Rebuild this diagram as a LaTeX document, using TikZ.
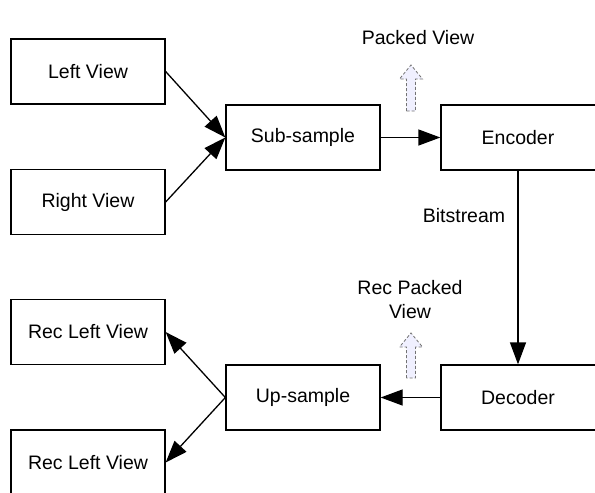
\documentclass[tikz,border=0pt]{standalone}
\usepackage{fontspec}
\setmainfont{Liberation Sans}
\usetikzlibrary{arrows.meta}
\begin{document}
\begin{tikzpicture}[x=1pt,y=-1pt,
  blk/.style={draw=black,line width=1.3pt,minimum width=154pt,minimum height=65pt,inner sep=0pt,font=\fontsize{19.5}{22}\selectfont},
  lbl/.style={font=\fontsize{19.5}{24}\selectfont,align=center},
  conn/.style={line width=1.3pt,-{Triangle[length=22pt,width=16pt]}},
  hollow/.style={draw=black!55,dashed,dash pattern=on 3pt off 2pt,line width=0.8pt,fill=blue!6!white}]
\useasboundingbox (0,0) rectangle (595,493);
\clip (0,0) rectangle (595,493);
\node[blk] (lv) at (88,71.5) {Left View};
\node[blk] (rv) at (88,202) {Right View};
\node[blk] (ss) at (303,137.5) {Sub-sample};
\node[blk,minimum width=156pt] (enc) at (519,137.5) {};
\node[font=\fontsize{19.5}{22}\selectfont] (enct) at (518,137.5) {Encoder};
\node[blk,minimum width=156pt] (dec) at (519,397.5) {};
\node[font=\fontsize{19.5}{22}\selectfont] (dect) at (518,397.5) {Decoder};
\node[blk] (us) at (303,397.5) {Up-sample};
\node[blk] (rl1) at (88,332) {Rec Left View};
\node[blk] (rl2) at (88,462.5) {Rec Left View};
\node[lbl] (pv) at (418,38) {Packed View};
\node[lbl] (bs) at (464,216) {Bitstream};
\node[lbl] (rpv) at (410,300) {Rec Packed\\View};
\coordinate (ssw) at (ss.west);
\draw[conn] (lv.east) -- (ssw);
\draw[conn] (rv.east) -- (ssw);
\draw[conn] (ss.east) -- (enc.west);
\draw[conn] (enc.south -| enct) -- (dec.north -| enct);
\draw[conn] (dec.west) -- (us.east);
\coordinate (usw) at (us.west);
\draw[conn] (usw) -- (rl1.east);
\draw[conn] (usw) -- (rl2.east);
\draw[hollow] (406.5,111) -- (406.5,79) -- (399.5,79) -- (411,65) -- (422.5,79) -- (415.5,79) -- (415.5,111) -- cycle;
\draw[hollow] (406.5,378) -- (406.5,347) -- (399.5,347) -- (411,333) -- (422.5,347) -- (415.5,347) -- (415.5,378) -- cycle;
\end{tikzpicture}
\end{document}
